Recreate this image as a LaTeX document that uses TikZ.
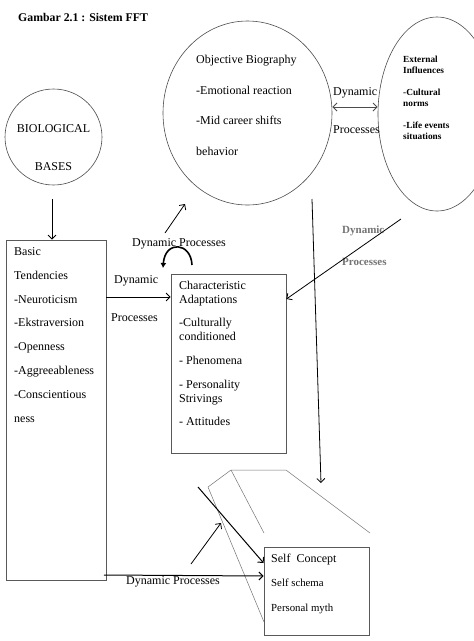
\documentclass[tikz,border=0pt]{standalone}
\usepackage{fontspec}
\setmainfont{Liberation Serif}
\usetikzlibrary{shapes.geometric,arrows.meta}
\begin{document}
\begin{tikzpicture}[x=1pt,y=-1pt,
  txt/.style={anchor=base west,inner sep=0pt,font=\fontsize{12}{14}\selectfont},
  ctxt/.style={anchor=base,inner sep=0pt,font=\fontsize{12}{14}\selectfont},
  smallb/.style={anchor=base west,inner sep=0pt,font=\fontsize{9.3}{11}\selectfont\bfseries},
  stxt/.style={anchor=base west,inner sep=0pt,font=\fontsize{10.8}{13}\selectfont},
  boxs/.style={draw=black!65,line width=0.8pt,rectangle,inner sep=0pt},
  ell/.style={draw=black!70,line width=0.6pt,ellipse,inner sep=0pt},
  arr/.style={-{Straight Barb[length=4pt,width=8pt]},line width=0.8pt},
  thinl/.style={draw=black!55,line width=0.5pt}]
\useasboundingbox (0,0) rectangle (474,641);

% title
\node[txt,font=\fontsize{11.8}{14}\selectfont\bfseries] (title) at (18,21) {Gambar 2.1 : Sistem FFT};

% ellipses
\node[ell,minimum width=97pt,minimum height=96pt] (bio) at (53.5,137) {};
\node[ctxt] (bio1) at (53.5,132) {BIOLOGICAL};
\node[ctxt] (bio2) at (53.5,170) {BASES};

\node[ell,minimum width=169pt,minimum height=184pt] (obj) at (247.5,113) {};
\node[txt] (o1) at (196,63) {Objective Biography};
\node[txt] (o2) at (196,94) {-Emotional reaction};
\node[txt] (o3) at (196,124) {-Mid career shifts};
\node[txt] (o4) at (196,155) {behavior};

\node[ell,minimum width=118pt,minimum height=194pt] (ext) at (437,114) {};
\node[smallb] (e1) at (403,62) {External};
\node[smallb] (e2) at (403,73) {Influences};
\node[smallb] (e3) at (403,95) {-Cultural};
\node[smallb] (e4) at (403,106) {norms};
\node[smallb] (e5) at (403,128) {-Life events};
\node[smallb] (e6) at (403,139) {situations};

\node[txt] (dp1) at (333,95) {Dynamic};
\node[txt] (dp2) at (333,133) {Processes};
\coordinate (oe) at (332,107);
\draw[{Straight Barb[length=4pt,width=8pt]}-{Straight Barb[length=4pt,width=8pt]},line width=1pt,draw=black!70] (obj.east |- oe) -- (ext.west |- oe);

% boxes
\node[boxs,minimum width=100pt,minimum height=340pt] (basic) at (56,410) {};
\node[txt] (b1) at (14,255) {Basic};
\node[txt] (b2) at (14,279) {Tendencies};
\node[txt] (b3) at (14,303) {-Neuroticism};
\node[txt] (b4) at (14,326) {-Ekstraversion};
\node[txt] (b5) at (14,350) {-Openness};
\node[txt] (b6) at (14,374) {-Aggreeableness};
\node[txt] (b7) at (14,398) {-Conscientious};
\node[txt] (b8) at (14,422) {ness};

\node[boxs,minimum width=115pt,minimum height=179pt] (char) at (228.5,363.5) {};
\node[txt] (c1) at (179,289) {Characteristic};
\node[txt] (c2) at (179,303) {Adaptations};
\node[txt] (c3) at (179,326) {-Culturally};
\node[txt] (c4) at (179,340) {conditioned};
\node[txt] (c5) at (179,364) {- Phenomena};
\node[txt] (c6) at (179,388) {- Personality};
\node[txt] (c7) at (179,402) {Strivings};
\node[txt] (c8) at (179,425) {- Attitudes};

\node[boxs,minimum width=105pt,minimum height=88pt] (self) at (316.5,591) {};
\node[txt] (s1) at (271,562) {Self\ \ Concept};
\node[stxt] (s2) at (271,586.5) {Self schema};
\node[stxt] (s3) at (271,611.5) {Personal myth};

% labels
\node[txt] (l1) at (114,283) {Dynamic};
\node[txt] (l2) at (111,321) {Processes};
\node[txt] (l3) at (132,246) {Dynamic Processes};
\node[txt,font=\fontsize{11}{13}\selectfont\bfseries,text=black!55] (l4) at (342,233) {Dynamic};
\node[txt,font=\fontsize{11}{13}\selectfont\bfseries,text=black!55] (l5) at (342,265) {Processes};
\node[txt] (l6) at (126,584) {Dynamic Processes};

% connectors
\coordinate (bioa) at (52,199);
\draw[arr] (bioa) -- (basic.north -| bioa);

\coordinate (bc) at (106,297);
\draw[arr] (basic.east |- bc) -- (char.west |- bc);

\coordinate (ua1) at (165,233);
\coordinate (ua2) at (185,204);
\draw[arr] (ua1) -- (ua2);

\coordinate (cv1) at (192,265);
\coordinate (cv2) at (163,268);
\draw[-{Latex[length=5pt,width=6pt]},line width=1.6pt] (cv1) .. controls (191,242) and (165,240) .. (cv2);

\coordinate (vt1) at (312,199);
\coordinate (vt2) at (321,483);
\draw[arr] (vt1) -- (vt2);

\coordinate (dg1) at (401,219);
\draw[arr] (dg1) -- (char.east |- 0,299);

% trapezoid lines
\coordinate (t1) at (208,487);
\coordinate (t2) at (231,470);
\coordinate (t3) at (286,470);
\coordinate (t4) at (370,533);
\coordinate (t5) at (264,533);
\coordinate (t6) at (264,622);
\draw[thinl] (t1) -- (t2) -- (t3) -- (t4);
\draw[thinl] (t2) -- (t5);
\draw[thinl] (t1) -- (t6);

\coordinate (tk1) at (198,487);
\draw[arr,line width=1pt] (tk1) -- (self.west |- 0,563);

\coordinate (ur1) at (191,564);
\coordinate (ur2) at (221,523);
\draw[arr] (ur1) -- (ur2);

\coordinate (hb) at (104,575);
\draw[arr,line width=1pt] (hb) -- (self.west |- 0,576);
\end{tikzpicture}
\end{document}
